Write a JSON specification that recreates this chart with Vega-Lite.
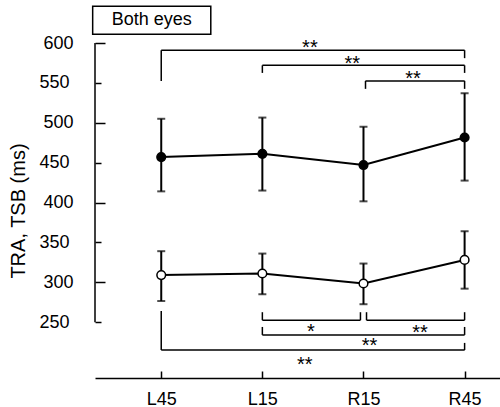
{
  "$schema": "https://vega.github.io/schema/vega-lite/v6.json",
  "autosize": {"type": "none"},
  "padding": {"left": 95, "top": 43, "right": 0, "bottom": 29},
  "width": 405,
  "height": 335,
  "config": {
    "view": {"stroke": null},
    "font": "Liberation Sans",
    "axis": {"grid": false, "domainColor": "black", "tickColor": "black", "labelColor": "black", "titleColor": "black", "tickWidth": 1.5, "domainWidth": 1.5, "labelOverlap": false, "labelFlush": false, "labelBound": false},
    "axisX": {"tickSize": -7, "labelPadding": 19, "labelFontSize": 18},
    "axisY": {"domain": false, "labelPadding": 32, "labelFontSize": 18, "titleFontSize": 20, "titleFontWeight": "normal", "titlePadding": 10}
  },
  "datasets": {
    "pts": [
      {"pos": 1, "cond": "L45", "series": "TRA", "mean": 457, "lo": 414, "hi": 505},
      {"pos": 2, "cond": "L15", "series": "TRA", "mean": 461, "lo": 415, "hi": 506.5},
      {"pos": 3, "cond": "R15", "series": "TRA", "mean": 447, "lo": 401.5, "hi": 495},
      {"pos": 4, "cond": "R45", "series": "TRA", "mean": 481.5, "lo": 427.5, "hi": 537},
      {"pos": 1, "cond": "L45", "series": "TSB", "mean": 309, "lo": 276.5, "hi": 339},
      {"pos": 2, "cond": "L15", "series": "TSB", "mean": 311, "lo": 285, "hi": 336},
      {"pos": 3, "cond": "R15", "series": "TSB", "mean": 298.5, "lo": 272.5, "hi": 323.5},
      {"pos": 4, "cond": "R45", "series": "TSB", "mean": 328, "lo": 292, "hi": 364}
    ],
    "yaxisline": [
      {"x": 0.345, "from": 250, "to": 600}
    ],
    "brackets": [
      {"from": 1, "to": 4, "y": 591, "leftEnd": 552.5, "rightEnd": 581},
      {"from": 2, "to": 4, "y": 572, "leftEnd": 562.5, "rightEnd": 562.5},
      {"from": 3.02, "to": 4, "y": 552.5, "leftEnd": 542.5, "rightEnd": 542.5},
      {"from": 2, "to": 2.97, "y": 252.5, "leftEnd": 262.5, "rightEnd": 262.5},
      {"from": 3.03, "to": 4, "y": 252.5, "leftEnd": 262.5, "rightEnd": 262.5},
      {"from": 2, "to": 4, "y": 234, "leftEnd": 244, "rightEnd": 244},
      {"from": 1, "to": 4, "y": 215, "leftEnd": 264, "rightEnd": 224}
    ],
    "sig": [
      {"x": 2.47, "y": 599.5, "label": "**"},
      {"x": 2.89, "y": 579.5, "label": "**"},
      {"x": 3.49, "y": 561, "label": "**"},
      {"x": 2.48, "y": 244, "label": "*"},
      {"x": 3.56, "y": 242.5, "label": "**"},
      {"x": 3.06, "y": 226, "label": "**"},
      {"x": 2.42, "y": 202.5, "label": "**"}
    ],
    "box": [
      {"x1": 0.322, "x2": 1.49, "y1": 611, "y2": 646, "xc": 0.906, "yc": 628.5, "label": "Both eyes"}
    ]
  },
  "layer": [
    {
      "data": {"name": "pts"},
      "mark": {"type": "line", "color": "black", "strokeWidth": 2},
      "encoding": {
        "x": {"field": "pos", "type": "quantitative", "scale": {"domain": [0.345, 4.35], "nice": false, "zero": false}, "title": null,
          "axis": {"values": [1, 2, 3, 4], "tickCount": 10, "labelExpr": "['','L45','L15','R15','R45'][datum.value]"}},
        "y": {"field": "mean", "type": "quantitative", "scale": {"domain": [180, 600], "nice": false, "zero": false}, "title": "TRA, TSB (ms)",
          "axis": {"values": [250, 300, 350, 400, 450, 500, 550, 600], "tickCount": 20, "labelOverlap": false, "tickSize": {"condition": {"test": "datum.value % 100 === 0", "value": -10}, "value": -6}}},
        "detail": {"field": "series"}
      }
    },
    {
      "data": {"name": "yaxisline"},
      "mark": {"type": "rule", "color": "black", "strokeWidth": 1.5},
      "encoding": {
        "x": {"field": "x", "type": "quantitative", "scale": {"domain": [0.345, 4.35], "nice": false, "zero": false}, "title": null},
        "y": {"field": "from", "type": "quantitative", "scale": {"domain": [180, 600], "nice": false, "zero": false}, "title": "TRA, TSB (ms)"},
        "y2": {"field": "to"}
      }
    },
    {
      "data": {"name": "pts"},
      "mark": {"type": "rule", "color": "black", "strokeWidth": 2},
      "encoding": {
        "x": {"field": "pos", "type": "quantitative", "scale": {"domain": [0.345, 4.35], "nice": false, "zero": false}, "title": null},
        "y": {"field": "lo", "type": "quantitative", "scale": {"domain": [180, 600], "nice": false, "zero": false}, "title": "TRA, TSB (ms)"},
        "y2": {"field": "hi"}
      }
    },
    {
      "data": {"name": "pts"},
      "mark": {"type": "tick", "orient": "horizontal", "color": "black", "size": 8, "thickness": 2},
      "encoding": {
        "x": {"field": "pos", "type": "quantitative", "scale": {"domain": [0.345, 4.35], "nice": false, "zero": false}, "title": null},
        "y": {"field": "lo", "type": "quantitative", "scale": {"domain": [180, 600], "nice": false, "zero": false}, "title": "TRA, TSB (ms)"}
      }
    },
    {
      "data": {"name": "pts"},
      "mark": {"type": "tick", "orient": "horizontal", "color": "black", "size": 8, "thickness": 2},
      "encoding": {
        "x": {"field": "pos", "type": "quantitative", "scale": {"domain": [0.345, 4.35], "nice": false, "zero": false}, "title": null},
        "y": {"field": "hi", "type": "quantitative", "scale": {"domain": [180, 600], "nice": false, "zero": false}, "title": "TRA, TSB (ms)"}
      }
    },
    {
      "data": {"name": "pts"},
      "mark": {"type": "point", "shape": "circle", "filled": true, "size": 75, "stroke": "black", "strokeWidth": 1.5, "opacity": 1},
      "encoding": {
        "x": {"field": "pos", "type": "quantitative", "scale": {"domain": [0.345, 4.35], "nice": false, "zero": false}, "title": null},
        "y": {"field": "mean", "type": "quantitative", "scale": {"domain": [180, 600], "nice": false, "zero": false}, "title": "TRA, TSB (ms)"},
        "fill": {"field": "series", "type": "nominal", "scale": {"domain": ["TRA", "TSB"], "range": ["black", "white"]}, "legend": null}
      }
    },
    {
      "data": {"name": "brackets"},
      "mark": {"type": "rule", "color": "black", "strokeWidth": 1.5},
      "encoding": {
        "x": {"field": "from", "type": "quantitative", "scale": {"domain": [0.345, 4.35], "nice": false, "zero": false}, "title": null},
        "x2": {"field": "to"},
        "y": {"field": "y", "type": "quantitative", "scale": {"domain": [180, 600], "nice": false, "zero": false}, "title": "TRA, TSB (ms)"}
      }
    },
    {
      "data": {"name": "brackets"},
      "mark": {"type": "rule", "color": "black", "strokeWidth": 1.5},
      "encoding": {
        "x": {"field": "from", "type": "quantitative", "scale": {"domain": [0.345, 4.35], "nice": false, "zero": false}, "title": null},
        "y": {"field": "y", "type": "quantitative", "scale": {"domain": [180, 600], "nice": false, "zero": false}, "title": "TRA, TSB (ms)"},
        "y2": {"field": "leftEnd"}
      }
    },
    {
      "data": {"name": "brackets"},
      "mark": {"type": "rule", "color": "black", "strokeWidth": 1.5},
      "encoding": {
        "x": {"field": "to", "type": "quantitative", "scale": {"domain": [0.345, 4.35], "nice": false, "zero": false}, "title": null},
        "y": {"field": "y", "type": "quantitative", "scale": {"domain": [180, 600], "nice": false, "zero": false}, "title": "TRA, TSB (ms)"},
        "y2": {"field": "rightEnd"}
      }
    },
    {
      "data": {"name": "sig"},
      "mark": {"type": "text", "color": "black", "fontSize": 20, "baseline": "middle", "align": "center", "dy": 5},
      "encoding": {
        "x": {"field": "x", "type": "quantitative", "scale": {"domain": [0.345, 4.35], "nice": false, "zero": false}, "title": null},
        "y": {"field": "y", "type": "quantitative", "scale": {"domain": [180, 600], "nice": false, "zero": false}, "title": "TRA, TSB (ms)"},
        "text": {"field": "label"}
      }
    },
    {
      "data": {"name": "box"},
      "mark": {"type": "rect", "fill": "white", "stroke": "black", "strokeWidth": 1.5},
      "encoding": {
        "x": {"field": "x1", "type": "quantitative", "scale": {"domain": [0.345, 4.35], "nice": false, "zero": false}, "title": null},
        "x2": {"field": "x2"},
        "y": {"field": "y1", "type": "quantitative", "scale": {"domain": [180, 600], "nice": false, "zero": false}, "title": "TRA, TSB (ms)"},
        "y2": {"field": "y2"}
      }
    },
    {
      "data": {"name": "box"},
      "mark": {"type": "text", "color": "black", "fontSize": 18, "baseline": "middle", "align": "center"},
      "encoding": {
        "x": {"field": "xc", "type": "quantitative", "scale": {"domain": [0.345, 4.35], "nice": false, "zero": false}, "title": null},
        "y": {"field": "yc", "type": "quantitative", "scale": {"domain": [180, 600], "nice": false, "zero": false}, "title": "TRA, TSB (ms)"},
        "text": {"field": "label"}
      }
    }
  ]
}
